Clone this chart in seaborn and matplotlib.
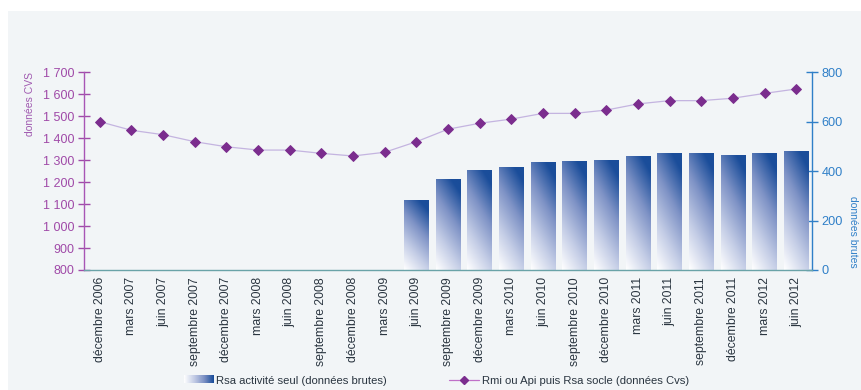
import numpy as np
import pandas as pd
import matplotlib
matplotlib.use("Agg")
import matplotlib.pyplot as plt
import seaborn as sns
from matplotlib.colors import LinearSegmentedColormap
from matplotlib.ticker import FuncFormatter
from matplotlib.patches import Rectangle, Patch
from matplotlib.lines import Line2D
from matplotlib.legend_handler import HandlerBase
from matplotlib.image import BboxImage
from matplotlib.transforms import Bbox, TransformedBbox

# --- données ---
periodes = [
    "décembre 2006", "mars 2007", "juin 2007", "septembre 2007", "décembre 2007",
    "mars 2008", "juin 2008", "septembre 2008", "décembre 2008", "mars 2009",
    "juin 2009", "septembre 2009", "décembre 2009", "mars 2010", "juin 2010",
    "septembre 2010", "décembre 2010", "mars 2011", "juin 2011", "septembre 2011",
    "décembre 2011", "mars 2012", "juin 2012",
]
# Rmi ou Api puis Rsa socle (données Cvs) - axe gauche
rmi_rsa_socle = [1475, 1436, 1416, 1384, 1361, 1346, 1346, 1331, 1319, 1336,
                 1384, 1441, 1468, 1487, 1513, 1513, 1528, 1556, 1571, 1571,
                 1582, 1604, 1624]
# Rsa activité seul (données brutes) - axe droit
rsa_activite = [np.nan] * 10 + [283, 368, 405, 418, 436, 441, 445, 463, 472,
                                472, 467, 472, 483]

ticks_gauche = list(range(800, 1701, 100))
ticks_droite = list(range(0, 801, 200))

violet = "#a04aa8"
bleu = "#2f7fc8"
fond = "#f2f5f7"

bar_cmap = LinearSegmentedColormap.from_list(
    "rsa", ["#ffffff", "#c4cde6", "#7f93c6", "#1a4d9a"])


class GradientHandler(HandlerBase):
    # petit rectangle en dégradé pour la légende des barres
    def create_artists(self, legend, orig_handle, xdescent, ydescent,
                       width, height, fontsize, trans):
        bb = TransformedBbox(Bbox.from_bounds(-xdescent, -ydescent, width, height), trans)
        img = BboxImage(bb, cmap=bar_cmap, interpolation="bicubic")
        img.set_data(np.linspace(0.2, 1, 64).reshape(1, -1))
        return [img]


sns.set_theme(style="white")
plt.rcParams["font.family"] = ["Liberation Sans", "DejaVu Sans"]

fig = plt.figure(figsize=(8.62, 3.9), dpi=100, facecolor="white")
fig.patches.append(Rectangle((8 / 862, 0), 1 - 8 / 862, 1 - 11 / 390,
                             transform=fig.transFigure, facecolor=fond,
                             edgecolor="none", zorder=-5))

ax = fig.add_axes([84 / 862, 1 - 270 / 390, 728 / 862, 197.7 / 390])
ax2 = ax.twinx()
ax.set_zorder(ax2.get_zorder() + 1)
ax.patch.set_visible(False)
ax2.patch.set_visible(False)

# barres (axe droit)
df_bar = pd.DataFrame({"periode": periodes, "rsa": rsa_activite})
sns.barplot(data=df_bar, x="periode", y="rsa", order=periodes, ax=ax2,
            color="#1a4d9a", errorbar=None, width=0.78, linewidth=0)

# dégradé dans chaque barre
u, v = np.meshgrid(np.linspace(0, 1, 40), np.linspace(0, 1, 80))
grad = np.clip(0.32 * u + 0.8 * v, 0, 1)
for p in list(ax2.patches):
    x0, y0, w, h = p.get_x(), p.get_y(), p.get_width(), p.get_height()
    if not np.isfinite(h) or h == 0:
        continue
    p.set_facecolor("none")
    im = ax2.imshow(grad, cmap=bar_cmap, origin="lower", aspect="auto",
                    extent=[x0, x0 + w, y0, y0 + h], interpolation="bicubic",
                    zorder=1)
    im.set_clip_path(p)

# courbe (axe gauche)
df_line = pd.DataFrame({"periode": periodes, "socle": rmi_rsa_socle})
sns.pointplot(data=df_line, x="periode", y="socle", order=periodes, ax=ax,
              color="#7b2d8e", markers="D", errorbar=None,
              markersize=5.5, linewidth=0.9)
ligne = ax.lines[-1]
ligne.set_color("#c4b4e0")
ligne.set_markerfacecolor("#7b2d8e")
ligne.set_markeredgecolor("#7b2d8e")

ax.set_xlim(-0.5, len(periodes) - 0.5)
ax.set_ylim(800, 1700)
ax2.set_ylim(0, 800)
ax.set_xlabel("")
ax.set_ylabel("")
ax2.set_xlabel("")
ax2.set_ylabel("")

# axe x
ax.set_xticks(range(len(periodes)))
ax.set_xticklabels(periodes, rotation=90, fontsize=8.8, color="#2a3540")
ax.set_xticks(np.arange(-0.5, len(periodes), 1), minor=True)
ax.tick_params(axis="x", which="major", length=0, pad=5)
ax.tick_params(axis="x", which="minor", length=7, width=1,
               direction="inout", color="#6aa3a8")

# axes y
esp = FuncFormatter(lambda val, pos: f"{val:,.0f}".replace(",", " "))
ax.set_yticks(ticks_gauche)
ax.yaxis.set_major_formatter(esp)
ax.tick_params(axis="y", length=8, width=1, direction="inout", color=violet,
               labelcolor=violet, labelsize=9, pad=3)
ax2.set_yticks(ticks_droite)
ax2.tick_params(axis="y", length=8, width=1, direction="inout", color=bleu,
                labelcolor=bleu, labelsize=9.2, pad=3)

for s in ["top", "right"]:
    ax.spines[s].set_visible(False)
for s in ["top", "left", "bottom"]:
    ax2.spines[s].set_visible(False)
ax.spines["left"].set_color("#a855b5")
ax.spines["left"].set_linewidth(1)
ax.spines["bottom"].set_color("#6aa3a8")
ax.spines["bottom"].set_linewidth(1)
ax2.spines["right"].set_color(bleu)
ax2.spines["right"].set_linewidth(1)

fig.text(30 / 862, 1 - 72 / 390, "données CVS", rotation=90, ha="center",
         va="top", fontsize=7.5, color="#a05ab0")
fig.text(853 / 862, 1 - 268 / 390, "données brutes", rotation=270,
         ha="center", va="bottom", fontsize=7.5, color=bleu)

# légende
h_bar = Patch(facecolor="#1a4d9a")
h_line = Line2D([], [], color="#c070c8", lw=0.9, marker="D", markersize=4.5,
                markerfacecolor="#7b2d8e", markeredgecolor="#7b2d8e")
fig.legend([h_bar, h_line],
           ["Rsa activité seul (données brutes)",
            "Rmi ou Api puis Rsa socle (données Cvs)"],
           handler_map={Patch: GradientHandler()},
           loc="center", bbox_to_anchor=(0.506, 0.024), ncol=2, frameon=False,
           fontsize=8.1, handlelength=2.6, handleheight=0.6, handletextpad=0.25,
           columnspacing=5.6, labelcolor="#2a3540")

fig.savefig("out.png", dpi=100, facecolor="white")
